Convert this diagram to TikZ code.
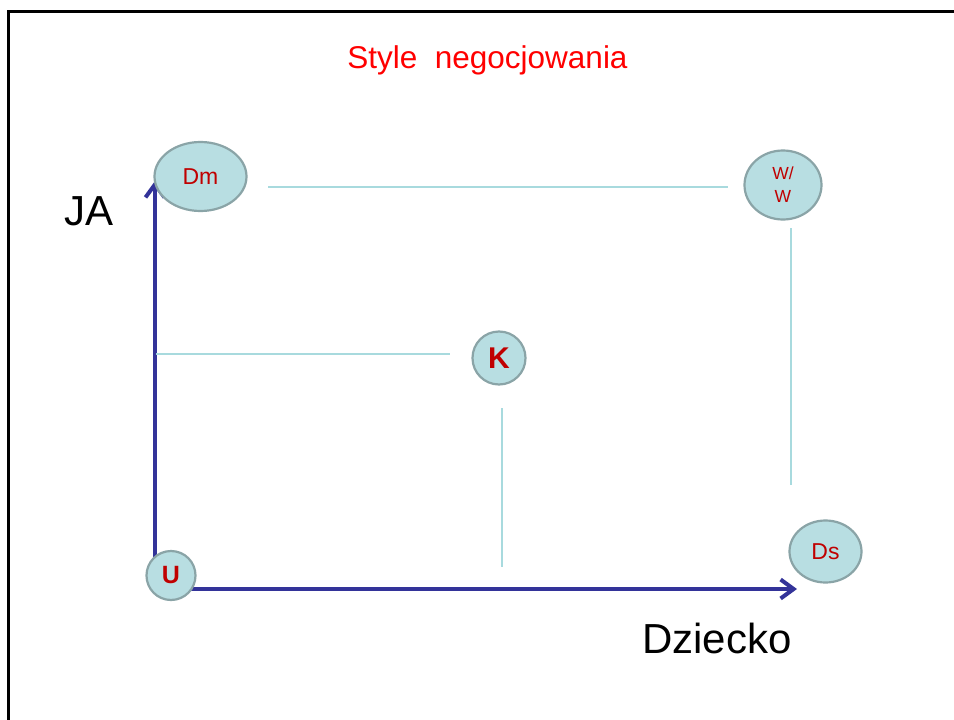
\documentclass[tikz,border=0pt]{standalone}
\usepackage{fontspec}
\setmainfont{Liberation Sans}
\usetikzlibrary{shapes.geometric,arrows.meta}
\definecolor{axisblue}{RGB}{51,51,153}
\definecolor{bubfill}{RGB}{184,222,226}
\definecolor{bubedge}{RGB}{138,164,167}
\definecolor{lblred}{RGB}{192,0,0}
\definecolor{titlered}{RGB}{255,0,0}
\definecolor{guide}{RGB}{168,218,222}
\tikzset{
  bub/.style={ellipse, draw=bubedge, fill=bubfill, line width=2.2, inner sep=0pt, text=lblred},
  guideline/.style={draw=guide, line width=1.3},
  axisline/.style={draw=axisblue, line width=4, {Straight Barb[length=13pt,width=19pt]}-{Straight Barb[length=13pt,width=19pt]}},
  frameline/.style={draw=black, line width=3},
}
\begin{document}
\begin{tikzpicture}[x=1pt,y=-1pt]
\useasboundingbox (0,0) rectangle (954,720);
\fill[white] (0,0) rectangle (954,720);
% frame
\coordinate (fbl) at (8.5,720);
\coordinate (ftl) at (8.5,11.5);
\coordinate (ftr) at (954,11.5);
\draw[frameline] (fbl) -- (ftl) -- (ftr);
% title and axis labels
\node[anchor=base, text=titlered, font=\fontsize{31.5}{31.5}\selectfont, inner sep=0pt] (title) at (487.5,68) {Style\ \ negocjowania};
\node[anchor=base, font=\fontsize{42}{42}\selectfont, inner sep=0pt] (ja) at (89,225) {JA};
\node[anchor=base, font=\fontsize{42}{42}\selectfont, inner sep=0pt] (dz) at (717,653) {Dziecko};
% axes
\coordinate (ytip) at (155,181);
\coordinate (corner) at (155,589);
\coordinate (xtip) at (797,589);
\draw[axisline] (ytip) -- (corner) -- (xtip);
% guide lines
\coordinate (g1a) at (268,187); \coordinate (g1b) at (728,187);
\coordinate (g2a) at (791,228); \coordinate (g2b) at (791,485);
\coordinate (g3a) at (156,354); \coordinate (g3b) at (450,354);
\coordinate (g4a) at (502,408); \coordinate (g4b) at (502,567);
\draw[guideline] (g1a) -- (g1b);
\draw[guideline] (g2a) -- (g2b);
\draw[guideline] (g3a) -- (g3b);
\draw[guideline] (g4a) -- (g4b);
% bubbles
\node[bub, minimum width=92, minimum height=69, font=\fontsize{23}{23}\selectfont] (Dm) at (200.5,176.5) {Dm};
\node[bub, minimum width=77, minimum height=69, font=\fontsize{17.5}{23}\selectfont, align=center] (WW) at (783,185) {W/\\W};
\node[bub, minimum width=53, minimum height=53, font=\fontsize{30}{30}\selectfont\bfseries] (K) at (499,358) {K};
\node[bub, minimum width=72, minimum height=62, font=\fontsize{23}{23}\selectfont] (Ds) at (825.5,551.5) {Ds};
\node[bub, minimum width=49, minimum height=49, font=\fontsize{25}{25}\selectfont\bfseries] (U) at (171,575.5) {U};
\end{tikzpicture}
\end{document}
